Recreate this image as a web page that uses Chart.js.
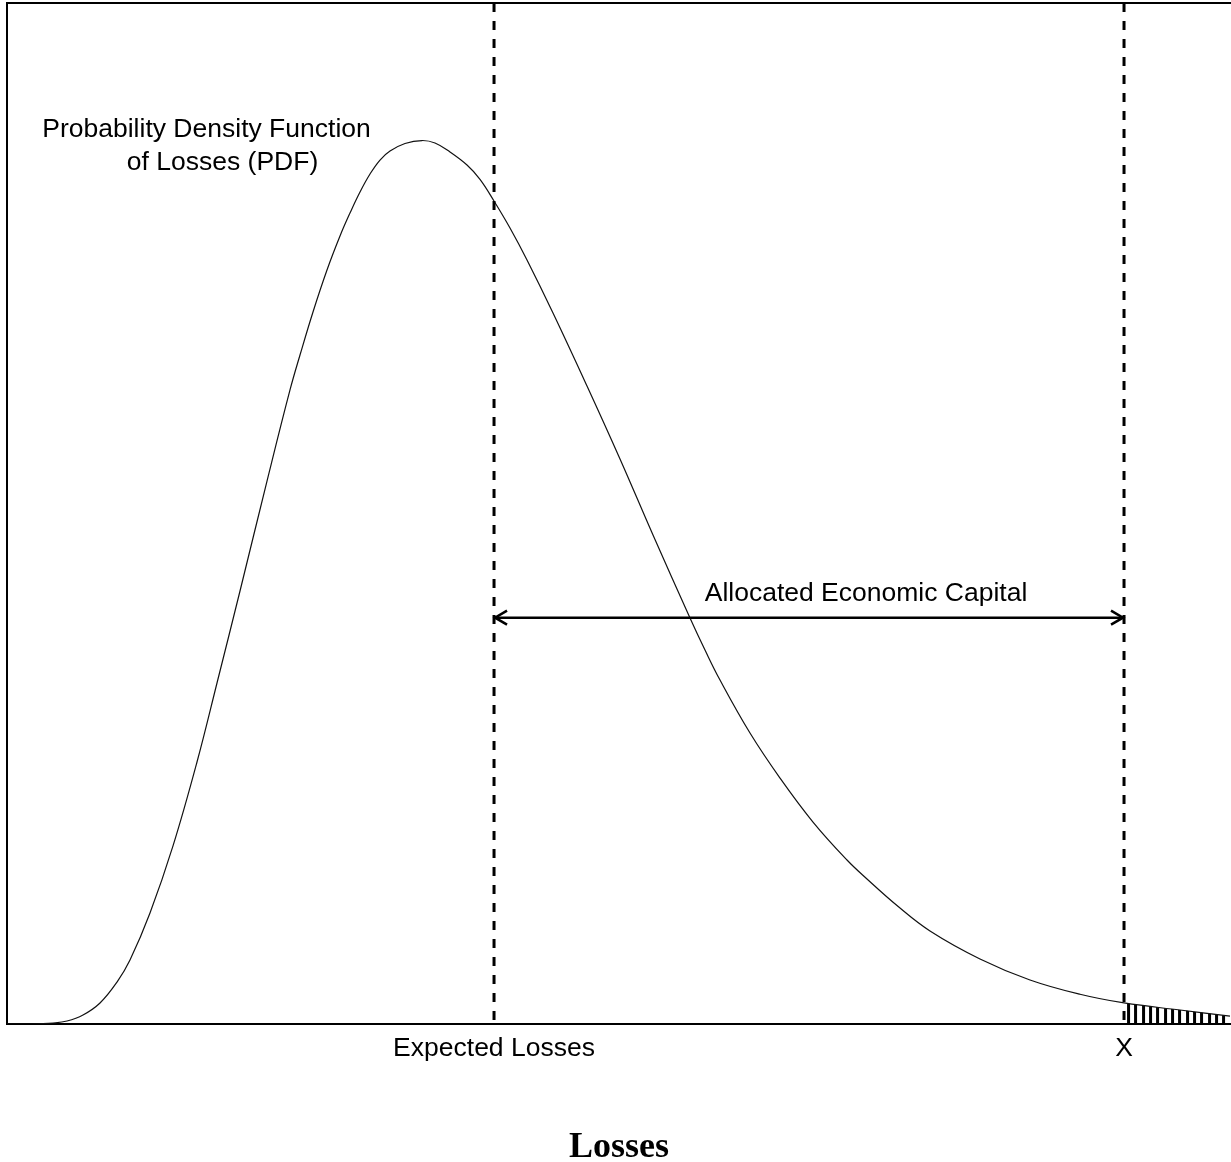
<!DOCTYPE html>
<html>
<head>
<meta charset="utf-8">
<script src="https://cdn.jsdelivr.net/npm/chart.js@4/dist/chart.umd.min.js"></script>
<style>
  html, body { margin: 0; padding: 0; background: #ffffff; }
  #wrap { width: 1231px; height: 1162px; position: relative; }
</style>
</head>
<body>
<div id="wrap"><canvas id="c"></canvas></div>
<script>
// ---- Data ----
const LOSS_X = [0, 1.879, 3.758, 4.902, 6.209, 7.598, 8.987, 10.049, 11.683, 13.562, 15.523, 17.157, 19.036, 21.242, 23.121, 23.938, 25.000, 26.144, 27.206, 28.023, 28.840, 29.657, 30.474, 31.291, 32.516, 33.905, 34.967, 36.193, 37.582, 38.644, 39.788, 41.095, 42.484, 44.608, 47.386, 50.082, 52.778, 55.801, 57.026, 58.252, 60.703, 63.154, 65.850, 68.627, 70.261, 72.712, 75.408, 79.493, 83.578, 87.663, 91.26, 95.833, 99.918];
const PDF_Y  = [0, 0, 0.0010, 0.0029, 0.0088, 0.0206, 0.0411, 0.0627, 0.1087, 0.1744, 0.2566, 0.3340, 0.4241, 0.5318, 0.6210, 0.6552, 0.6974, 0.7385, 0.7718, 0.7943, 0.8149, 0.8325, 0.8462, 0.8550, 0.8624, 0.8653, 0.8629, 0.8541, 0.8413, 0.8273, 0.8061, 0.7796, 0.7483, 0.6964, 0.6249, 0.5534, 0.4789, 0.3977, 0.3663, 0.3369, 0.2850, 0.2409, 0.1978, 0.1606, 0.1420, 0.1160, 0.0911, 0.0637, 0.0431, 0.0291, 0.0206, 0.0137, 0.0078];
const EXPECTED_LOSS = 39.79;
const CAPITAL_X = 91.26;
const ARROW_LEVEL = 0.398;
const TICK_VALUES = [EXPECTED_LOSS, CAPITAL_X];
const TICK_LABELS = ['Expected Losses', 'X'];
const AXIS_TITLE = 'Losses';
const PDF_LABEL = ['Probability Density Function', 'of Losses (PDF)'];
const CAPITAL_LABEL = 'Allocated Economic Capital';

// ---- Build datasets ----
const curve = LOSS_X.map((x, i) => ({ x: x, y: PDF_Y[i] }));
const tail = curve.filter(p => p.x >= CAPITAL_X);

function hatchPattern(ctx) {
  const c = document.createElement('canvas');
  c.width = 22; c.height = 8;
  const g = c.getContext('2d');
  g.fillStyle = '#000';
  g.fillRect(0, 0, 3, 8);
  g.fillRect(7, 0, 3, 8);
  g.fillRect(15, 0, 3, 8);
  return ctx.createPattern(c, 'repeat');
}

const canvas = document.getElementById('c');
const pattern = hatchPattern(canvas.getContext('2d'));

const annotations = {
  id: 'annotations',
  beforeDatasetsDraw(chart) {
    const start = chart.scales.x.getPixelForValue(CAPITAL_X) + 3;
    if (pattern.setTransform) {
      pattern.setTransform(new DOMMatrix().translate(start, 0));
    }
  },
  afterDatasetsDraw(chart) {
    const { ctx, scales: { x, y } } = chart;
    const meta = chart.getDatasetMeta(3);
    const p0 = meta.data[0], p1 = meta.data[1];
    ctx.save();
    ctx.strokeStyle = '#000';
    ctx.lineWidth = 2.5;
    ctx.beginPath();
    ctx.moveTo(p0.x + 13, p0.y - 7); ctx.lineTo(p0.x + 1, p0.y); ctx.lineTo(p0.x + 13, p0.y + 7);
    ctx.moveTo(p1.x - 13, p1.y - 7); ctx.lineTo(p1.x - 1, p1.y); ctx.lineTo(p1.x - 13, p1.y + 7);
    ctx.stroke();

    ctx.fillStyle = '#000';
    ctx.font = '26.5px "Liberation Sans", Arial, sans-serif';
    ctx.textAlign = 'center';
    ctx.textBaseline = 'alphabetic';
    ctx.fillText(PDF_LABEL[0], x.getPixelForValue(16.30), y.getPixelForValue(0.8688));
    ctx.fillText(PDF_LABEL[1], x.getPixelForValue(17.61), y.getPixelForValue(0.8364));
    ctx.fillText(CAPITAL_LABEL, x.getPixelForValue(70.18), y.getPixelForValue(0.4143));
    ctx.restore();
  }
};

new Chart(canvas, {
  type: 'line',
  data: {
    datasets: [
      {
        label: 'PDF',
        data: curve,
        borderColor: '#111',
        borderWidth: 1.2,
        pointRadius: 0,
        tension: 0.4,
        fill: false,
        order: 1
      },
      {
        label: 'Tail',
        data: tail,
        borderWidth: 0,
        borderColor: 'rgba(0,0,0,0)',
        backgroundColor: pattern,
        pointRadius: 0,
        tension: 0.4,
        fill: 'origin',
        order: 2
      },
      {
        label: 'Expected Losses line',
        data: [{ x: EXPECTED_LOSS, y: 1 }, { x: EXPECTED_LOSS, y: 0 }],
        borderColor: '#000',
        borderWidth: 3,
        borderDash: [9, 9],
        pointRadius: 0,
        fill: false,
        order: 0
      },
      {
        label: 'Capital arrow',
        data: [{ x: EXPECTED_LOSS, y: ARROW_LEVEL }, { x: CAPITAL_X, y: ARROW_LEVEL }],
        borderColor: '#000',
        borderWidth: 2.5,
        pointRadius: 0,
        fill: false,
        order: 0
      },
      {
        label: 'X line',
        data: [{ x: CAPITAL_X, y: 1 }, { x: CAPITAL_X, y: 0 }],
        borderColor: '#000',
        borderWidth: 3,
        borderDash: [9, 9],
        pointRadius: 0,
        fill: false,
        order: 0
      }
    ]
  },
  options: {
    responsive: true,
    maintainAspectRatio: false,
    animation: false,
    events: [],
    layout: { padding: { top: 3, left: 7, right: 0, bottom: 0 } },
    plugins: {
      legend: { display: false },
      tooltip: { enabled: false },
      title: { display: false }
    },
    scales: {
      x: {
        type: 'linear',
        position: 'bottom',
        min: 0,
        max: 100,
        grid: { display: false, drawTicks: false },
        border: { display: true, color: '#000', width: 2 },
        afterBuildTicks: (scale) => { scale.ticks = TICK_VALUES.map(v => ({ value: v })); },
        afterFit: (scale) => { scale.height = 138; },
        ticks: {
          autoSkip: false,
          maxRotation: 0,
          padding: 9,
          color: '#000',
          font: { family: '"Liberation Sans", Arial, sans-serif', size: 26.5 },
          callback: (value, index) => TICK_LABELS[index]
        },
        title: {
          display: true,
          text: AXIS_TITLE,
          color: '#000',
          font: { family: '"Liberation Serif", "Times New Roman", serif', size: 36, weight: 'bold', lineHeight: 0.8 },
          padding: { top: 0, bottom: 0 }
        }
      },
      xTop: {
        type: 'linear',
        position: 'top',
        min: 0,
        max: 100,
        grid: { display: false, drawTicks: false },
        border: { display: true, color: '#000', width: 2 },
        ticks: { display: false }
      },
      y: {
        type: 'linear',
        min: 0,
        max: 1,
        grid: { display: false, drawTicks: false },
        border: { display: true, color: '#000', width: 2 },
        ticks: { display: false }
      }
    }
  },
  plugins: [annotations]
});
</script>
</body>
</html>
